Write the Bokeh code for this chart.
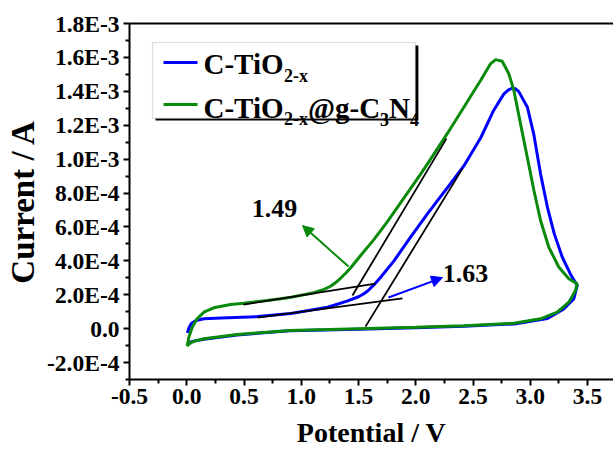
from bokeh.plotting import figure
from bokeh.models import (Range1d, LinearAxis, FixedTicker, CustomJSTickFormatter, Label,
                          Arrow, NormalHead, BoxAnnotation)
from bokeh.embed import file_html
from bokeh.resources import INLINE

# ---------------- data ----------------
blue_v = [0.005, 0.02, 0.04, 0.08, 0.15, 0.30, 0.62, 0.91, 1.23, 1.40, 1.50, 1.54, 1.58, 1.63,
          1.69, 1.81, 1.95, 2.10, 2.28, 2.42, 2.57, 2.68, 2.77, 2.81, 2.84, 2.87, 2.90, 2.975,
          3.03, 3.09, 3.15, 3.21, 3.28, 3.35, 3.41, 3.38, 3.29, 3.15, 2.86, 2.42, 2.0, 1.5, 0.9,
          0.44, 0.15, 0.05, 0.01]
blue_i = [-2.5e-5, 5e-6, 3.0e-5, 4.8e-5, 5.8e-5, 6.3e-5, 7.1e-5, 8.9e-5, 1.26e-4, 1.62e-4,
          1.88e-4, 2.03e-4, 2.22e-4, 2.55e-4, 3.0e-4, 4.0e-4, 5.35e-4, 6.75e-4, 8.35e-4, 9.6e-4,
          1.129e-3, 1.287e-3, 1.385e-3, 1.408e-3, 1.418e-3, 1.415e-3, 1.398e-3, 1.306e-3,
          1.149e-3, 9.13e-4, 7.16e-4, 5.59e-4, 4.21e-4, 3.23e-4, 2.54e-4, 1.75e-4, 1.15e-4,
          6.0e-5, 2.8e-5, 1.4e-5, 5e-6, -3e-6, -1.3e-5, -3.7e-5, -6.2e-5, -7.5e-5, -8.5e-5]

green_v = [0.004, 0.018, 0.048, 0.09, 0.149, 0.236, 0.382, 0.50, 0.70, 0.82, 0.91, 1.11, 1.20,
           1.256, 1.30, 1.343, 1.39, 1.43, 1.517, 1.634, 1.751, 1.896, 2.041, 2.13, 2.275, 2.42,
           2.566, 2.653, 2.697, 2.755, 2.813, 2.857, 2.915, 2.974, 3.032, 3.09, 3.162, 3.25,
           3.337, 3.41, 3.395, 3.337, 3.236, 3.09, 2.857, 2.42, 2.0, 1.5, 0.9, 0.44, 0.15, 0.06,
           0.02, 0.004]
green_i = [-1.04e-4, -5.1e-5, 8e-6, 5.8e-5, 9.7e-5, 1.23e-4, 1.42e-4, 1.50e-4, 1.66e-4, 1.76e-4,
           1.85e-4, 2.12e-4, 2.32e-4, 2.50e-4, 2.72e-4, 2.97e-4, 3.28e-4, 3.58e-4, 4.3e-4,
           5.25e-4, 6.3e-4, 7.7e-4, 9.1e-4, 1.0e-3, 1.15e-3, 1.306e-3, 1.464e-3, 1.562e-3,
           1.587e-3, 1.577e-3, 1.503e-3, 1.405e-3, 1.208e-3, 1.011e-3, 8.15e-4, 6.38e-4, 4.8e-4,
           3.62e-4, 2.94e-4, 2.64e-4, 2.25e-4, 1.56e-4, 9.7e-5, 5.8e-5, 3.2e-5, 1.7e-5, 8e-6,
           0.0, -1.1e-5, -3.5e-5, -6e-5, -7.5e-5, -9e-5, -1.04e-4]

# tangent lines (onset potential construction)
green_base_v = [0.495, 1.648]
green_base_i = [1.42e-4, 2.66e-4]
green_steep_v = [1.447, 2.268]
green_steep_i = [1.95e-4, 1.121e-3]
blue_base_v = [0.618, 1.884]
blue_base_i = [6.5e-5, 1.78e-4]
blue_steep_v = [1.561, 2.408]
blue_steep_i = [1.2e-5, 9.44e-4]

onset_labels = ["1.49", "1.63"]

x_ticks = [-0.5, 0.0, 0.5, 1.0, 1.5, 2.0, 2.5, 3.0, 3.5]
x_minor = [-0.25, 0.25, 0.75, 1.25, 1.75, 2.25, 2.75, 3.25]
y_ticks = [-2e-4, 0.0, 2e-4, 4e-4, 6e-4, 8e-4, 1.0e-3, 1.2e-3, 1.4e-3, 1.6e-3, 1.8e-3]
y_minor = [-3e-4, -1e-4, 1e-4, 3e-4, 5e-4, 7e-4, 9e-4, 1.1e-3, 1.3e-3, 1.5e-3, 1.7e-3]

# legend pieces: (text, is_subscript)
legend_rows = [
    [("C-TiO", False), ("2-x", True)],
    [("C-TiO", False), ("2-x", True), ("@g-C", False), ("3", True), ("N", False), ("4", True)],
]

BLUE = "#0000ff"
GREEN = "#0a8a0a"
FONT = "Liberation Serif"

X0, X1 = -0.5, 3.727
PX_PER_V = 114.5

p = figure(width=613, height=450, output_backend="svg", toolbar_location=None,
           x_range=Range1d(X0, X1), y_range=Range1d(-3e-4, 1.8e-3),
           min_border_left=129, min_border_right=0, min_border_top=23, min_border_bottom=71,
           background_fill_color="white", border_fill_color="white")
p.outline_line_color = None
p.xgrid.visible = False
p.ygrid.visible = False

# curves
p.line(blue_v, blue_i, line_color=BLUE, line_width=3)
p.line(green_v, green_i, line_color=GREEN, line_width=3)

# tangents
for xs, ys in [(green_base_v, green_base_i), (green_steep_v, green_steep_i),
               (blue_base_v, blue_base_i), (blue_steep_v, blue_steep_i)]:
    p.line(xs, ys, line_color="black", line_width=1.8)

# arrows
p.add_layout(Arrow(x_start=1.413, y_start=3.66e-4, x_end=1.011, y_end=6.08e-4,
                   line_color=GREEN, line_width=2,
                   end=NormalHead(size=11, fill_color=GREEN, line_color=GREEN)))
p.add_layout(Arrow(x_start=1.762, y_start=1.84e-4, x_end=2.234, y_end=3.01e-4,
                   line_color=BLUE, line_width=2,
                   end=NormalHead(size=11, fill_color=BLUE, line_color=BLUE)))

p.add_layout(Label(x=0.766, y=7.08e-4, text=onset_labels[0], text_align="center",
                   text_baseline="middle", text_font=FONT, text_font_style="bold",
                   text_font_size="26px", text_color="black"))
p.add_layout(Label(x=2.435, y=3.25e-4, text=onset_labels[1], text_align="center",
                   text_baseline="middle", text_font=FONT, text_font_style="bold",
                   text_font_size="26px", text_color="black"))

# legend (manual, to allow subscripts)
p.add_layout(BoxAnnotation(left=-0.273, right=2.023, top=1.670e-3, bottom=1.228e-3,
                           fill_color="black", fill_alpha=1, line_color=None))
p.add_layout(BoxAnnotation(left=-0.299, right=1.997, top=1.688e-3, bottom=1.240e-3,
                           fill_color="white", fill_alpha=1, line_color="#8c8c8c",
                           line_width=1.2))
p.add_layout(Arrow(x_start=-0.203, y_start=1.570e-3, x_end=0.094, y_end=1.570e-3,
                   line_color=BLUE, line_width=3, end=None))
p.add_layout(Arrow(x_start=-0.203, y_start=1.322e-3, x_end=0.094, y_end=1.322e-3,
                   line_color=GREEN, line_width=3, end=None))

# approximate advance widths (em) of Times-metric bold glyphs, for placing pieces
EM = {"C": 0.722, "-": 0.333, "T": 0.667, "i": 0.278, "O": 0.778, "2": 0.5, "x": 0.5,
      "@": 0.93, "g": 0.5, "N": 0.722, "3": 0.5, "4": 0.5}
MAIN, SUB = 29, 18
row_mid = [1.563e-3, 1.3033e-3]      # vertical middle of main text, per row
sub_mid = [1.488e-3, 1.2343e-3]      # vertical middle of subscripts, per row
for row, ym, ys in zip(legend_rows, row_mid, sub_mid):
    x = 0.146
    for txt, is_sub in row:
        size = SUB if is_sub else MAIN
        p.add_layout(Label(x=x, y=ys if is_sub else ym, text=txt, text_align="left",
                           text_baseline="middle", text_font=FONT, text_font_style="bold",
                           text_font_size=f"{size}px", text_color="black"))
        x += sum(EM[c] for c in txt) * size / PX_PER_V

# axes
for ax in (p.xaxis[0], p.yaxis[0]):
    ax.axis_line_width = 2
    ax.axis_line_color = "black"
    ax.major_tick_line_width = 2
    ax.minor_tick_line_width = 2
    ax.major_tick_in = 0
    ax.major_tick_out = 6
    ax.minor_tick_in = 0
    ax.minor_tick_out = 4
    ax.major_label_text_font = FONT
    ax.major_label_text_font_style = "bold"
    ax.major_label_text_font_size = "23.5px"
    ax.major_label_text_color = "black"
    ax.axis_label_text_font = FONT
    ax.axis_label_text_font_style = "bold"
    ax.axis_label_text_color = "black"

p.xaxis.ticker = FixedTicker(ticks=x_ticks, minor_ticks=x_minor)
p.yaxis.ticker = FixedTicker(ticks=y_ticks, minor_ticks=y_minor)
p.xaxis.formatter = CustomJSTickFormatter(code="return tick.toFixed(1);")
p.yaxis.formatter = CustomJSTickFormatter(code="""
if (Math.abs(tick) < 1e-12) { return "0.0"; }
const e = Math.floor(Math.log10(Math.abs(tick)) + 1e-9);
const m = tick / Math.pow(10, e);
return m.toFixed(1) + "E" + e;
""")
p.xaxis.axis_label = "Potential / V"
p.yaxis.axis_label = "Current / A"
p.xaxis.axis_label_text_font_size = "28px"
p.yaxis.axis_label_text_font_size = "33px"
p.xaxis.major_label_standoff = 3
p.yaxis.major_label_standoff = 4
p.xaxis.axis_label_standoff = 10
p.yaxis.axis_label_standoff = 3

top = LinearAxis(ticker=FixedTicker(ticks=[]), axis_line_width=2, axis_line_color="black",
                 major_label_text_font_size="0px", major_tick_out=0, minor_tick_out=0,
                 major_label_standoff=0)
p.add_layout(top, "above")

open("out.html", "w").write(file_html(p, INLINE))
